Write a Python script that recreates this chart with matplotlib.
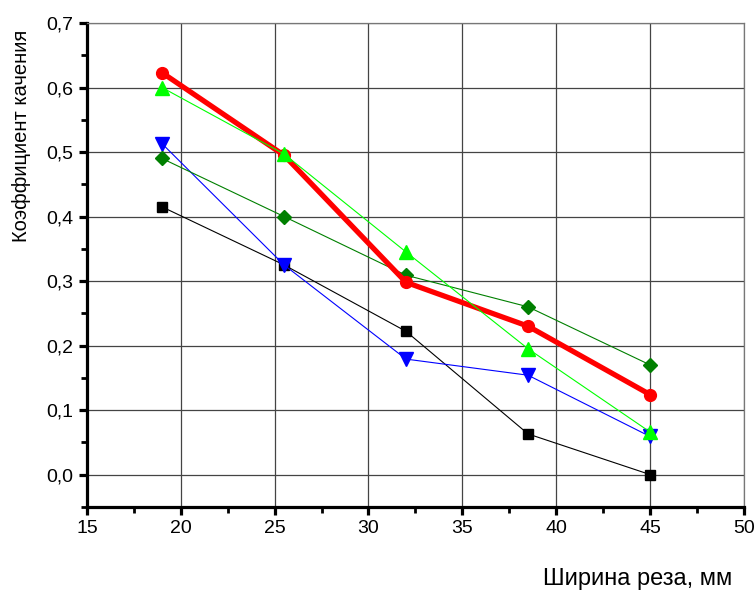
import matplotlib

matplotlib.use("Agg")
import matplotlib.pyplot as plt
from matplotlib.ticker import MultipleLocator, FuncFormatter

plt.rcParams["font.family"] = ["Liberation Sans", "DejaVu Sans"]

# ширина реза, мм
width_mm = [19, 25.5, 32, 38.5, 45]

# коэффициент качения по сериям
k_black = [0.415, 0.325, 0.222, 0.063, 0.0]
k_red = [0.623, 0.495, 0.298, 0.230, 0.124]
k_lime = [0.600, 0.497, 0.345, 0.195, 0.066]
k_blue = [0.513, 0.325, 0.179, 0.154, 0.059]
k_green = [0.490, 0.400, 0.309, 0.260, 0.170]

fig = plt.figure(figsize=(7.56, 5.90), dpi=100)
ax = fig.add_axes([0.115, 0.141, 0.869, 0.820])

ax.plot(width_mm, k_black, color="black", lw=0.8, marker="s", ms=7, zorder=3)
ax.plot(width_mm, k_blue, color="#0000FF", lw=0.8, marker="v", ms=10, zorder=3)
ax.plot(width_mm, k_green, color="#008000", lw=0.8, marker="D", ms=7.5, zorder=3)
ax.plot(width_mm, k_red, color="#FF0000", lw=3.8, marker="o", ms=8.5, zorder=4)
ax.plot(width_mm, k_lime, color="#00FF00", lw=0.8, marker="^", ms=10, zorder=5)

ax.set_xlim(15, 50)
ax.set_ylim(-0.05, 0.7)
ax.xaxis.set_major_locator(MultipleLocator(5))
ax.xaxis.set_minor_locator(MultipleLocator(2.5))
ax.yaxis.set_major_locator(MultipleLocator(0.1))
ax.yaxis.set_minor_locator(MultipleLocator(0.05))
ax.yaxis.set_major_formatter(FuncFormatter(lambda v, p: f"{v:.1f}".replace(".", ",")))

ax.grid(True, which="major", color="#444444", lw=0.9, zorder=0)
ax.set_axisbelow(True)

for side in ("left", "bottom"):
    ax.spines[side].set_linewidth(2.3)
    ax.spines[side].set_color("black")
for side in ("top", "right"):
    ax.spines[side].set_linewidth(0.9)
    ax.spines[side].set_color("#777777")

ax.tick_params(which="major", direction="out", length=6, width=2.3, labelsize=14)
ax.tick_params(which="minor", direction="out", length=4, width=2)

fig.text(0.028, 0.77, "Коэффициент качения", rotation=90, fontsize=14.5,
         ha="center", va="center")
fig.text(0.843, 0.019, "Ширина реза, мм", fontsize=17, ha="center", va="center")

fig.savefig("out.png", dpi=100)
